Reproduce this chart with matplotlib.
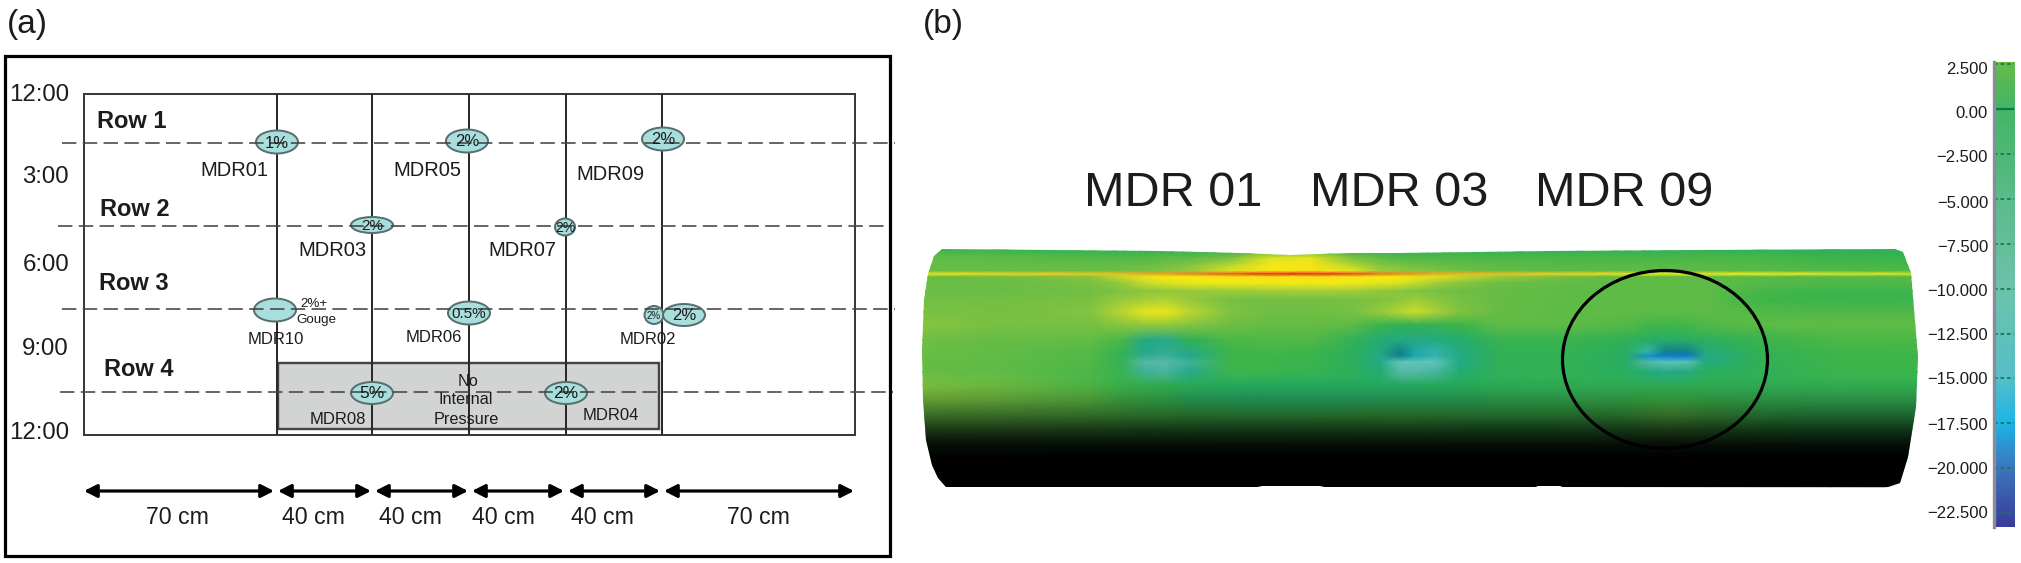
import numpy as np
import matplotlib
matplotlib.use("Agg")
import matplotlib.pyplot as plt
from matplotlib.colors import LinearSegmentedColormap, Normalize
from matplotlib.patches import Ellipse, Rectangle, PathPatch
from matplotlib.path import Path

plt.rcParams['font.family'] = ['Liberation Sans', 'DejaVu Sans']

# ---------- panel (a) data ----------
section_lines = [277, 372, 469, 566, 662]
row_names = ["Row 1", "Row 2", "Row 3", "Row 4"]
row_label_x = [97, 100, 99, 104]
row_label_y = [121, 209, 284, 370]
row_dash_y = [143, 226, 309, 392]
row_dash_x0 = [62, 58, 62, 60]
row_dash_x1 = [895, 885, 895, 893]
clock_labels = ["12:00", "3:00", "6:00", "9:00", "12:00"]
clock_y = [95, 177, 265, 349, 433]

defect_text = ["1%", "2%", "2%", "2%", "2%", "", "0.5%", "2%", "2%", "5%", "2%"]
defect_x = [277, 467, 663, 372, 565, 275, 469, 654, 684, 372, 566]
defect_y = [142, 141, 139, 225, 227, 310, 313, 315, 315, 393, 393]
defect_w = [42, 42, 42, 42, 20, 42, 42, 19, 42, 42, 42]
defect_h = [23, 23, 23, 16, 17, 23, 23, 18, 22, 22, 22]
defect_fs = [12, 12, 12, 11, 10, 10, 11, 7, 12, 12.5, 12.5]

mdr_names = ["MDR01", "MDR05", "MDR09", "MDR03", "MDR07",
             "MDR10", "MDR06", "MDR02", "MDR08", "MDR04"]
mdr_x = [200, 393, 576, 298, 488, 248, 406, 620, 310, 583]
mdr_y = [171, 171, 175, 251, 251, 340, 338, 340, 419, 416]
mdr_fs = [14.5, 14.5, 14.5, 14.5, 14.5, 12, 12, 12, 12, 12]

span_labels = ["70 cm", "40 cm", "40 cm", "40 cm", "40 cm", "70 cm"]
span_x0 = [84, 278, 375, 472, 568, 664]
span_x1 = [274, 371, 468, 564, 660, 854]
span_text_x = [177, 313, 410, 503, 602, 758]

# ---------- panel (b) data ----------
surface_cols = [920, 1000, 1090, 1120, 1145, 1165, 1190, 1230, 1270, 1310, 1350, 1380, 1400,
                1415, 1435, 1460, 1500, 1570, 1625, 1648, 1665, 1688, 1705, 1760, 1830, 1920]
surface_rows = [249, 258, 266, 271, 274, 277, 283, 291, 300, 312, 325, 340, 352, 356, 362,
                372, 385, 400, 415, 487]
surface_vals = [
 [1.5,1.0,0.6,0.5,0.5,0.5,0.5,0.5,0.5,0.5,0.5,0.5,0.5,0.5,0.5,0.5,0.5,0.5,0.5,0.5,0.5,0.5,0.5,0.4,0.3,0.3],
 [2.3,2.2,2.0,2.0,2.0,2.2,2.3,2.9,5.0,5.2,3.0,2.3,2.0,1.9,1.9,1.9,1.8,1.8,1.8,1.8,1.8,1.8,1.8,1.7,1.3,1.2],
 [2.4,2.4,2.4,2.5,2.6,2.8,3.2,4.5,5.5,5.6,4.5,3.2,3.0,2.8,2.6,2.4,2.2,2.1,2.1,2.1,2.1,2.1,2.1,2.0,1.8,1.7],
 [2.4,2.4,2.5,2.6,2.8,3.1,3.6,5.0,5.6,5.7,5.2,3.8,3.4,3.2,3.0,2.7,2.4,2.2,2.2,2.2,2.2,2.2,2.2,2.1,2.0,1.9],
 [5.6,6.0,6.3,6.6,7.0,7.2,7.8,8.6,9.5,9.5,9.0,8.0,7.6,7.4,7.0,6.8,6.5,6.0,5.8,5.6,5.6,5.6,5.6,5.5,5.2,5.0],
 [2.4,2.6,3.2,4.5,5.2,5.4,5.5,5.6,5.7,5.7,5.6,5.5,5.4,5.2,5.0,4.5,3.6,2.6,2.3,2.2,2.2,2.2,2.2,2.1,2.0,2.0],
 [2.5,2.5,2.9,3.5,4.6,5.0,5.3,5.4,5.4,5.4,5.4,5.2,5.0,4.6,4.0,3.2,2.6,2.3,2.2,2.2,2.2,2.2,2.2,2.1,1.9,1.9],
 [2.5,2.5,2.7,3.0,3.3,3.5,3.6,3.7,3.9,4.0,3.9,3.5,3.2,3.0,2.8,2.6,2.4,2.2,2.2,2.2,2.2,2.2,2.2,1.7,1.3,1.3],
 [2.7,2.7,2.9,3.6,4.0,4.2,3.6,2.8,2.7,2.7,2.8,3.0,3.4,3.8,3.4,2.8,2.4,2.2,2.2,2.2,2.2,2.2,2.2,1.5,1.2,1.2],
 [2.9,2.8,3.1,4.3,5.2,5.3,4.4,3.0,2.6,2.6,2.8,3.6,4.3,4.7,4.1,3.0,2.4,2.2,2.2,2.2,2.2,2.2,2.2,2.0,1.9,1.9],
 [3.2,2.8,2.8,3.2,3.5,3.5,3.1,2.6,2.4,2.4,2.2,1.2,0.6,0.6,0.8,1.4,2.2,2.2,2.0,1.6,1.5,1.6,1.9,2.2,2.2,2.2],
 [2.6,2.4,2.3,1.8,-3.5,-4.0,0.5,1.8,1.9,1.9,0.8,-2.5,-3.5,-3.8,-3.5,-2.0,1.0,1.1,0.5,-0.6,-1.0,-0.6,0.2,1.1,1.8,1.8],
 [2.5,2.3,2.0,1.0,-4.0,-4.5,-3.5,1.5,1.6,1.4,0.3,-3.0,-14.0,-12.0,-11.0,-3.0,0.6,0.7,0.0,-11.0,-14.0,-14.0,-3.0,0.7,1.5,1.6],
 [2.5,2.3,2.0,0.8,-4.5,-5.0,-4.0,1.4,1.5,1.2,0.2,-4.0,-14.0,-12.0,-11.0,-3.5,0.5,0.6,-0.2,-17.0,-20.0,-20.0,-4.0,0.6,1.4,1.5],
 [2.4,2.2,1.9,0.8,-6.0,-6.5,-5.0,1.4,1.4,1.1,0.2,-3.5,-9.0,-9.0,-9.0,-3.5,0.5,0.6,-0.8,-6.0,-8.5,-8.0,-3.0,0.5,1.3,1.4],
 [2.4,2.2,1.8,1.0,-5.0,-5.5,-4.0,1.3,1.2,1.0,0.3,-2.0,-6.0,-6.0,-5.5,-2.0,0.5,0.6,0.0,-2.5,-4.0,-3.0,0.0,0.5,1.1,1.2],
 [3.0,2.6,1.9,1.3,1.0,0.6,0.2,-0.3,-0.5,-0.5,-0.5,-0.5,-0.5,-0.4,-0.3,0.0,0.4,0.5,0.5,0.4,0.4,0.4,0.5,0.5,0.8,0.9],
 [3.0,2.7,2.2,1.6,1.2,0.8,0.0,-0.6,-0.8,-0.8,-0.8,-0.8,-0.6,-0.6,-0.4,0.0,0.5,0.9,1.1,1.4,1.5,1.4,1.2,0.9,0.7,0.7],
 [2.4,2.3,2.1,1.9,1.7,1.7,1.5,1.3,1.3,1.4,1.5,1.6,1.6,1.6,1.5,1.3,1.2,1.3,1.6,2.0,2.2,2.1,1.8,1.2,0.6,0.6],
 [1.5,1.5,1.5,1.5,1.5,1.5,1.5,1.5,1.5,1.5,1.5,1.5,1.5,1.5,1.5,1.5,1.5,1.5,1.5,1.5,1.5,1.5,1.5,1.5,1.5,1.5],
]
shade_rows = [249, 378, 388, 400, 415, 430, 445, 458, 487]
shade_alpha = [0.0, 0.0, 0.06, 0.2, 0.42, 0.7, 0.92, 1.0, 1.0]

outline_x = [942, 934, 928, 924, 922, 923, 926, 932, 938, 946, 1257, 1262, 1320, 1325, 1535, 1538, 1560, 1563,
             1885, 1900, 1908, 1916, 1918, 1911, 1903, 1895, 1700, 1550, 1400, 1350, 1290, 1240, 1160]
outline_y = [249, 256, 274, 300, 350, 400, 440, 465, 478, 487, 487, 486, 486, 487, 487, 486, 486, 487,
             488, 483, 457, 407, 357, 273, 252, 249, 250, 251, 253, 253, 255, 253, 251]

title_names = ["MDR 01", "MDR 03", "MDR 09"]
title_x = [1084, 1310, 1535]

cbar_ticks = [2.5, 0, -2.5, -5, -7.5, -10, -12.5, -15, -17.5, -20, -22.5]
cbar_tick_labels = ["2.500", "0.00", "\u22122.500", "\u22125.000", "\u22127.500", "\u221210.000",
                    "\u221212.500", "\u221215.000", "\u221217.500", "\u221220.000", "\u221222.500"]
cbar_label_y = [69, 113, 158, 203, 247, 292, 336, 380, 425, 469, 513]
cbar_vals = [-23.3, -20, -17.5, -15, -10, -5, -2.5, 0, 1.5, 2.7]
cbar_cols = ["#3a3c9a", "#3c76bb", "#1cb4e8", "#57bfc9", "#6cc3aa", "#5cbb8a", "#4fb874", "#44b56a",
             "#55b855", "#6abd45"]
surf_vals = [-23.3, -20, -17, -14, -12, -9, -6, -4, -2, 0, 1.5, 2.5, 4, 5.5, 7, 9.5]
surf_cols = ["#3a3c9a", "#0a7cd0", "#1290c8", "#137f8f", "#1fa8a8", "#5fc5b8", "#55b8a5", "#25a98a",
             "#22ac70", "#2aae5e", "#3eb549", "#6abd45", "#a6ce39", "#f6eb14", "#f9a51b", "#ee2a24"]

# ---------- figure ----------
W, H = 2021, 563
fig = plt.figure(figsize=(W / 100, H / 100), dpi=100, facecolor="white")
ax = fig.add_axes([0, 0, 1, 1])
ax.set_xlim(0, W)
ax.set_ylim(H, 0)
ax.set_autoscale_on(False)
ax.axis("off")

px = 0.72  # points per pixel at 100 dpi
ink = "#3a3a3a"
txt = "#1c1c1c"

ax.text(7, 24, "(a)", fontsize=24, color=txt, va="center", ha="left")
ax.text(923, 24, "(b)", fontsize=24, color=txt, va="center", ha="left")

ax.add_patch(Rectangle((5, 56), 885, 500, fill=False, ec="black", lw=3.2 * px, zorder=6))
ax.add_patch(Rectangle((84, 94), 771, 341, fill=False, ec=ink, lw=2 * px, zorder=2))

ax.add_patch(Rectangle((278, 363), 381, 66, fc="#d2d3d3", ec="#444444", lw=2.4 * px, zorder=1))
for x in section_lines:
    ax.plot([x, x], [94, 435], color="#2a2a2a", lw=2 * px, zorder=2, solid_capstyle="butt")

for t, x, y, w, h, fs in zip(defect_text, defect_x, defect_y, defect_w, defect_h, defect_fs):
    ax.add_patch(Ellipse((x, y), w, h, fc="#a8dedc", ec="#56706f", lw=2 * px, zorder=3))
    if t:
        ax.text(x, y + 1, t, fontsize=fs, color=txt, ha="center", va="center", zorder=5)

for y, x0, x1 in zip(row_dash_y, row_dash_x0, row_dash_x1):
    ax.plot([x0, x1], [y, y], color="#444444", lw=1.6 * px, dashes=(9, 4), zorder=4)

for name, x, y in zip(row_names, row_label_x, row_label_y):
    ax.text(x, y, name, fontsize=17, fontweight="bold", color=txt, ha="left", va="center", zorder=5)
for lab, y in zip(clock_labels, clock_y):
    ax.text(69, y, lab, fontsize=17.3, color=txt, ha="right", va="center", zorder=5)

ax.text(314, 304, "2%+", fontsize=9.6, color=txt, ha="center", va="center", zorder=5)
ax.text(316, 320, "Gouge", fontsize=9.6, color=txt, ha="center", va="center", zorder=5)

for name, x, y, fs in zip(mdr_names, mdr_x, mdr_y, mdr_fs):
    ax.text(x, y, name, fontsize=fs, color=txt, ha="left", va="center", zorder=5)
for t, x, y in zip(["No", "Internal", "Pressure"], [468, 466, 466], [382, 400, 420]):
    ax.text(x, y, t, fontsize=11.7, color=txt, ha="center", va="center", zorder=5)

for x0, x1, lab, tx in zip(span_x0, span_x1, span_labels, span_text_x):
    ax.annotate("", xy=(x1, 491), xytext=(x0, 491), zorder=5,
                arrowprops=dict(arrowstyle="<|-|>,head_length=0.55,head_width=0.28", color="black",
                                lw=3.2 * px, shrinkA=0, shrinkB=0, mutation_scale=14))
    ax.text(tx, 518, lab, fontsize=16.7, color=txt, ha="center", va="center", zorder=5)

# surface
def ramp_map(name, vals, cols):
    stops = [(v - vals[0]) / (vals[-1] - vals[0]) for v in vals]
    return LinearSegmentedColormap.from_list(name, list(zip(stops, cols)), N=1024), Normalize(vals[0], vals[-1])

surf_cmap, surf_norm = ramp_map("surface", surf_vals, surf_cols)
cbar_cmap, cbar_norm = ramp_map("bar", cbar_vals, cbar_cols)

outline = list(zip(outline_x, outline_y))
clip = PathPatch(Path(outline + [outline[0]], closed=True), transform=ax.transData, fc="none", ec="none")
ax.add_patch(clip)
mesh = ax.pcolormesh(surface_cols, surface_rows, np.array(surface_vals), cmap=surf_cmap, norm=surf_norm,
                     shading="gouraud", zorder=1)
mesh.set_clip_path(clip)
shade_cmap = LinearSegmentedColormap.from_list("shade", [(0, 0, 0, 0), (0, 0, 0, 1)], N=256)
y_px = np.arange(surface_rows[0], surface_rows[-1] + 1)
shade_img = np.interp(y_px, shade_rows, shade_alpha)[:, None]
shade = ax.imshow(shade_img, cmap=shade_cmap, vmin=0, vmax=1, aspect="auto", interpolation="nearest",
                  extent=[surface_cols[0], surface_cols[-1], surface_rows[-1], surface_rows[0]], zorder=2)
shade.set_clip_path(clip)
ax.set_xlim(0, W)
ax.set_ylim(H, 0)

ax.add_patch(Ellipse((1665, 359.5), 205, 178, fill=False, ec="black", lw=3.2 * px, zorder=4))
for name, x in zip(title_names, title_x):
    ax.text(x, 194, name, fontsize=35, color=txt, ha="left", va="center", zorder=5)

# colour bar
v_top, v_bot = (109 - 62) / 17.96, -(527 - 109) / 17.96
cax = fig.add_axes([1994 / W, 1 - 527 / H, 20 / W, 465 / H])
ramp = np.linspace(v_top, v_bot, 400)[:, None]
cax.imshow(ramp, cmap=cbar_cmap, norm=cbar_norm, aspect="auto", extent=[0, 1, v_bot, v_top],
           interpolation="bilinear")
cax.hlines(cbar_ticks, 0, 1, colors="#0c7f4e", lw=1.3, linestyles=(0, (2, 1.6)))
cax.hlines([0], 0, 1, colors="#0a7a45", lw=1.6)
cax.set_xticks([])
cax.set_yticks([])
for side, s in cax.spines.items():
    s.set_visible(side == "left")
    s.set_color("#8b8b9b")
    s.set_linewidth(2.4)
for lab, y in zip(cbar_tick_labels, cbar_label_y):
    ax.text(1988, y, lab, fontsize=12, color=txt, ha="right", va="center", zorder=5)

fig.savefig("out.png", dpi=100, facecolor="white")
